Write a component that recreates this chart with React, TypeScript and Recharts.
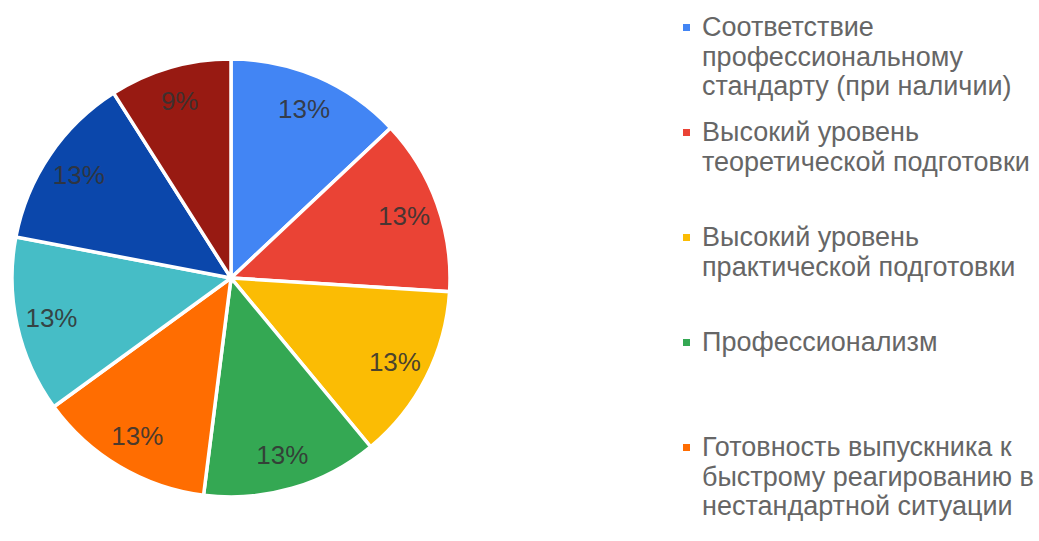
import React from "react";
import { PieChart, Pie, Cell, Legend } from "recharts";

// "\n" marks where the legend wraps each category name
const categories = [
  "Соответствие\nпрофессиональному\nстандарту (при наличии)",
  "Высокий уровень\nтеоретической подготовки",
  "Высокий уровень\nпрактической подготовки",
  "Профессионализм",
  "Готовность выпускника к\nбыстрому реагированию в\nнестандартной ситуации",
  "Категория 6",
  "Категория 7",
  "Категория 8",
];
const values = [13, 13, 13, 13, 13, 13, 13, 9];
const colors = [
  "#4285F4",
  "#EA4335",
  "#FBBC04",
  "#34A853",
  "#FF6D01",
  "#46BDC6",
  "#0B47AB",
  "#981A12",
];
const visibleLegendCount = 5;

const data = categories.map((name, i) => ({ name: name.replace(/\n/g, " "), lines: name.split("\n"), value: values[i] }));

const FONT = '"Liberation Sans", Arial, sans-serif';
const RAD = Math.PI / 180;

const renderLabel = (props: any) => {
  const { cx, cy, midAngle, outerRadius, percent } = props;
  const r = outerRadius * 0.84;
  const x = cx + r * Math.cos(-midAngle * RAD);
  const y = cy + r * Math.sin(-midAngle * RAD);
  return (
    <text
      x={x}
      y={y}
      fill="#333333"
      fillOpacity={0.9}
      fontSize={26}
      fontFamily={FONT}
      textAnchor="middle"
      dominantBaseline="central"
    >
      {`${Math.round(percent * 100)}%`}
    </text>
  );
};

const renderLegend = () => {
  const items = data.slice(0, visibleLegendCount);
  return (
    <div style={{ position: "relative", width: 356, height: 541, overflow: "hidden" }}>
      {items.map((entry, i) => (
        <div
          key={i}
          style={{
            position: "absolute",
            left: 0,
            top: 13 + i * 105,
            display: "flex",
            alignItems: "flex-start",
          }}
        >
          <div
            style={{
              width: 7,
              height: 7,
              marginTop: 11,
              marginRight: 12,
              background: colors[i],
              flex: "none",
            }}
          />
          <div
            style={{
              fontFamily: FONT,
              fontSize: 27,
              lineHeight: "29.5px",
              color: "#666666",
              textAlign: "left",
              whiteSpace: "nowrap",
            }}
          >
            {entry.lines.map((ln, k) => (
              <div key={k}>{ln}</div>
            ))}
          </div>
        </div>
      ))}
    </div>
  );
};

export default function App() {
  return (
    <div style={{ position: "absolute", left: 0, top: 0, width: 1039, height: 541, overflow: "hidden", background: "#fff" }}>
      <PieChart width={1039} height={541} margin={{ top: 0, right: 0, bottom: 0, left: 0 }}>
        <Pie
          data={data}
          dataKey="value"
          nameKey="name"
          cx={231}
          cy={278}
          outerRadius={219}
          startAngle={90}
          endAngle={-270}
          stroke="#ffffff"
          strokeWidth={3.5}
          label={renderLabel}
          labelLine={false}
          isAnimationActive={false}
        >
          {data.map((d, i) => (
            <Cell key={d.name} fill={colors[i]} />
          ))}
        </Pie>
        <Legend
          layout="vertical"
          align="right"
          verticalAlign="top"
          content={renderLegend}
          wrapperStyle={{ left: 683, top: 0, width: 356, height: 541 }}
        />
      </PieChart>
    </div>
  );
}
